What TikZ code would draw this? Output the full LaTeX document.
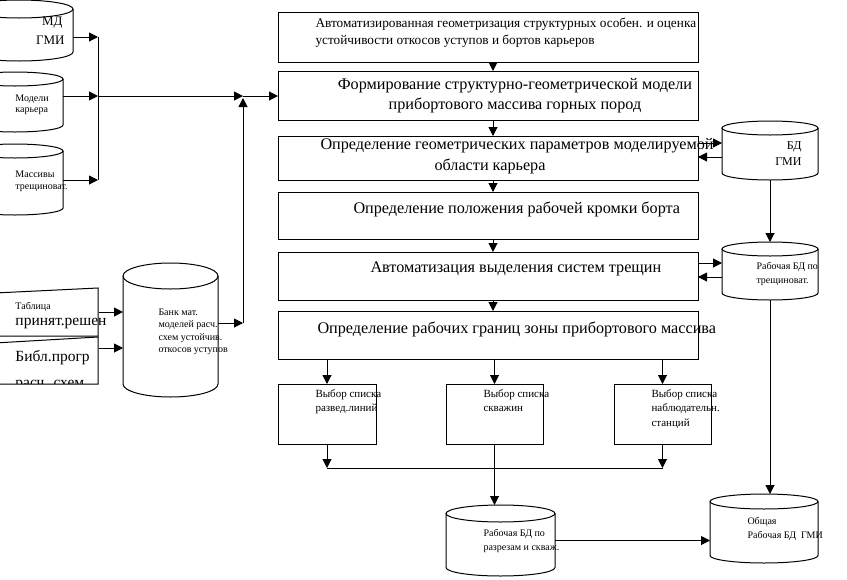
\documentclass[tikz,border=0pt]{standalone}
\usepackage{fontspec}
\setmainfont{Liberation Serif}
\usetikzlibrary{arrows.meta}
\newcommand\mycyl[6]{%
  \pgfmathsetmacro\mycx{(#2+#4)/2}%
  \pgfmathsetmacro\myrx{(#4-#2)/2}%
  \pgfmathsetmacro\mycy{-(#3+#5)/2}%
  \pgfmathsetmacro\myw{#4-#2}%
  \pgfmathsetmacro\myh{#5-#3}%
  \pgfmathsetmacro\mytop{-(#3+#6)}%
  \pgfmathsetmacro\mybot{-(#5-#6)}%
  \node[inner sep=0, outer sep=0, minimum width=\myw pt, minimum height=\myh pt] (#1) at (\mycx,\mycy) {};
  \draw[fill=white] (#2,\mytop) -- (#2,\mybot) arc[start angle=180, end angle=360, x radius=\myrx pt, y radius=#6 pt] -- (#4,\mytop);
  \draw (\mycx,\mytop) ellipse[x radius=\myrx pt, y radius=#6 pt];
}
\newcommand\mybox[5]{%
  \pgfmathsetmacro\mycx{(#2+#4)/2}%
  \pgfmathsetmacro\mycy{-(#3+#5)/2}%
  \pgfmathsetmacro\myw{#4-#2}%
  \pgfmathsetmacro\myh{#5-#3}%
  \node[boxst, minimum width=\myw pt, minimum height=\myh pt] (#1) at (\mycx,\mycy) {};
}
\begin{document}
\begin{tikzpicture}[x=1pt,y=1pt,line width=1pt,
  boxst/.style={draw, rectangle, inner sep=0, outer sep=0},
  arr/.style={-{Triangle[length=9pt,width=9pt]}},
  tx/.style={inner sep=0, anchor=west},
  tbig/.style={tx, font=\fontsize{16.2}{18}\selectfont},
  tmid/.style={tx, font=\fontsize{13.3}{15}\selectfont},
  tsm/.style={tx, font=\fontsize{11}{12}\selectfont},
  tss/.style={tx, font=\fontsize{10}{12}\selectfont}]
\useasboundingbox (0,0) rectangle (847,-579);
\clip (0,0) rectangle (847,-579);
\fill[white] (0,0) rectangle (847,-579);

% main boxes
\mybox{b1}{278}{12}{698}{62}
\mybox{b2}{278}{71}{698}{120}
\mybox{b3}{278}{136}{698}{180}
\mybox{b4}{278}{192}{698}{239}
\mybox{b5}{278}{252}{698}{300}
\mybox{b6}{278}{311}{698}{359}
\mybox{ba}{278}{384}{376}{444}
\mybox{bb}{446}{384}{543}{444}
\mybox{bc}{614}{384}{711}{444}

% cylinders
\mycyl{md}{-35}{0}{73}{61}{9}
\mycyl{mod}{-33}{72}{63}{132}{7}
\mycyl{mas}{-33}{144}{63}{215}{7}
\mycyl{bank}{123}{263}{218}{397}{13}
\mycyl{bdg}{722}{121}{818}{180}{7}
\mycyl{trc}{722}{242}{818}{300}{7}
\mycyl{c1}{446}{505}{555}{576}{8.5}
\mycyl{c2}{710}{494}{818}{563}{7.5}

% left manual-input shapes
\node[inner sep=0, minimum width=103pt, minimum height=48pt] (tabl) at (46.5,-312) {};
\node[inner sep=0, minimum width=103pt, minimum height=48pt] (bibl) at (46.5,-360) {};
\draw (-5,-293) -- (98,-288) -- (98,-336) -- (-5,-336);
\draw (-5,-343) -- (98,-337) -- (98,-384) -- (-5,-384);

% texts
\node[tmid] (t1a) at (315,-24) {Автоматизированная геометризация структурных особен. и оценка};
\node[tmid] (t1b) at (315,-41) {устойчивости откосов уступов и бортов карьеров};
\node[tbig, anchor=center] (t2a) at (515,-86) {Формирование структурно-геометрической модели};
\node[tbig, anchor=center] (t2b) at (515,-105) {прибортового массива горных пород};
\node[tbig] (t3a) at (320,-146) {Определение геометрических параметров моделируемой};
\node[tbig, anchor=center] (t3b) at (490,-166) {области карьера};
\node[tbig] (t4) at (353,-209) {Определение положения рабочей кромки борта};
\node[tbig] (t5) at (370,-269) {Автоматизация выделения систем трещин};
\node[tbig] (t6) at (317,-329) {Определение рабочих границ зоны прибортового массива};

\node[tsm] (ta1) at (315,-395) {Выбор списка};
\node[tsm] (ta2) at (315,-409) {развед.линий};
\node[tsm] (tb1) at (483,-395) {Выбор списка};
\node[tsm] (tb2) at (483,-409) {скважин};
\node[tsm] (tc1) at (651,-395) {Выбор списка};
\node[tsm] (tc2) at (651,-409) {наблюдательн.};
\node[tsm] (tc3) at (651,-424) {станций};

\node[tss] (tc1a) at (483,-534) {Рабочая БД по};
\node[tss] (tc1b) at (483,-549) {разрезам и скваж.};
\node[tss] (tc2a) at (747,-522) {Общая};
\node[tss] (tc2b) at (747,-536) {Рабочая БД\ \ ГМИ};

\node[tx, font=\fontsize{12}{14}\selectfont, anchor=east] (tbd1) at (802,-147) {БД};
\node[tx, font=\fontsize{12}{14}\selectfont, anchor=east] (tbd2) at (802,-162) {ГМИ};
\node[tss] (ttr1) at (756,-267) {Рабочая БД по};
\node[tss] (ttr2) at (756,-282) {трещиноват.};

\node[tx, font=\fontsize{13}{15}\selectfont, anchor=east] (tmd1) at (63,-23) {МД};
\node[tx, font=\fontsize{13}{15}\selectfont, anchor=east] (tmd2) at (65,-40) {ГМИ};
\node[tss] (tmo1) at (15,-99) {Модели};
\node[tss] (tmo2) at (15,-111) {карьера};
\node[tss] (tma1) at (15,-174) {Массивы};
\node[tss] (tma2) at (15,-188) {трещиноват.};

\node[tss] (tbk1) at (158,-312) {Банк мат.};
\node[tss] (tbk2) at (158,-325) {моделей расч.};
\node[tss] (tbk3) at (158,-338) {схем устойчив.};
\node[tss] (tbk4) at (158,-351) {откосов уступов};

\node[tss] (ttb1) at (15,-307) {Таблица};
\node[tx, font=\fontsize{15.5}{17}\selectfont] (ttb2) at (15,-323) {принят.решен};
\node[tx, font=\fontsize{15.5}{17}\selectfont] (tbi1) at (15,-358) {Библ.прогр};
\begin{scope}
\clip (-5,-343) rectangle (98,-383.5);
\node[tx, font=\fontsize{15.5}{17}\selectfont] (tbi2) at (15,-385) {расч. схем};
\end{scope}

% main chain
\draw[arr] ([xshift=5pt]b1.south) -- ([xshift=5pt]b2.north);
\draw[arr] ([xshift=5pt]b2.south) -- ([xshift=5pt]b3.north);
\draw[arr] ([xshift=5pt]b3.south) -- ([xshift=5pt]b4.north);
\draw[arr] ([xshift=5pt]b4.south) -- ([xshift=5pt]b5.north);
\draw[arr] ([xshift=5pt]b5.south) -- ([xshift=5pt]b6.north);

% to selection boxes
\draw[arr] (b6.south -| ba.north) -- (ba.north);
\draw[arr] (b6.south -| bb.north) -- (bb.north);
\draw[arr] (b6.south -| bc.north) -- (bc.north);
\coordinate (ja) at (327,-468);
\coordinate (jc) at (662.5,-468);
\draw[arr] (ba.south) -- (ja);
\draw[arr] (bc.south) -- (jc);
\draw (ja) -- (jc);
\draw[arr] (bb.south) -- (bb.south |- c1.north);
\draw[arr] (c1.east) -- (c1.east -| c2.west);

% right side
\draw[arr] ([yshift=15pt]b3.east) -- ([yshift=15pt]b3.east -| bdg.west);
\draw[arr] ([yshift=1pt]b3.east -| bdg.west) -- ([yshift=1pt]b3.east);
\draw[arr] ([yshift=13pt]b5.east) -- ([yshift=13pt]b5.east -| trc.west);
\draw[arr] ([yshift=-1pt]b5.east -| trc.west) -- ([yshift=-1pt]b5.east);
\draw[arr] (bdg.south) -- (trc.north);
\draw[arr] (trc.south) -- (trc.south |- c2.north);

% left inputs
\coordinate (busT) at (98,-37);
\coordinate (busM) at (98,-96);
\coordinate (busB) at (98,-180);
\coordinate (jn) at (243,-96);
\coordinate (jb) at (243,-323);
\draw[arr] (md.east |- busT) -- (busT);
\draw[arr] (mod.east |- busM) -- (busM);
\draw[arr] (mas.east |- busB) -- (busB);
\draw (busT) -- (busB);
\draw[arr] (busM) -- (jn);
\draw[arr] (jn) -- (b2.west |- jn);
\draw[arr] (bank.east |- jb) -- (jb);
\draw[arr] (jb) -- ([yshift=-2pt]jn);
\draw[arr] (tabl.east) -- (tabl.east -| bank.west);
\draw[arr] ([yshift=12pt]bibl.east) -- ([yshift=12pt]bibl.east -| bank.west);
\end{tikzpicture}
\end{document}
